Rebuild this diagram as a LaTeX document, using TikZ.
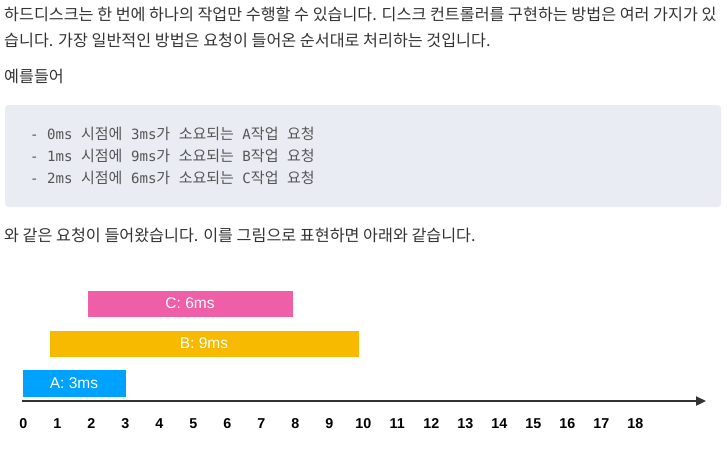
\documentclass[tikz,border=0pt]{standalone}
\usepackage{fontspec}
\setmainfont{Liberation Sans}
\newfontfamily\kr{Noto Sans CJK KR}
\newfontfamily\cmono{DejaVu Sans Mono}
\usetikzlibrary{arrows.meta}
\definecolor{bodytxt}{HTML}{333333}
\definecolor{codetxt}{HTML}{555555}
\definecolor{codebg}{HTML}{E9ECF3}
\definecolor{barA}{HTML}{00A2FF}
\definecolor{barB}{HTML}{F8BA00}
\definecolor{barC}{HTML}{EF5FA7}
\definecolor{axis}{HTML}{333333}
\newcommand\mc[1]{{\cmono\fontsize{14.1}{16}\selectfont #1}}
\newcommand\kc[1]{{\kr\fontsize{15}{16}\selectfont #1}}
\begin{document}
\begin{tikzpicture}[x=1pt,y=-1pt,
  bodyline/.style={anchor=west,inner sep=0pt,text=bodytxt,font=\kr\fontsize{16.2}{18}\selectfont},
  codeline/.style={anchor=west,inner sep=0pt,text=codetxt},
  bar/.style={draw=white,line width=0.6pt,text=white,font=\fontsize{15.5}{17}\selectfont,inner sep=0pt},
  tick/.style={font=\bfseries\fontsize{14.3}{16}\selectfont,inner sep=0pt,text=black,anchor=base}]
\useasboundingbox (0,0) rectangle (727,464);
\node[bodyline] (l1) at (4,14) {하드디스크는 한 번에 하나의 작업만 수행할 수 있습니다. 디스크 컨트롤러를 구현하는 방법은 여러 가지가 있};
\node[bodyline] (l2) at (4,40) {습니다. 가장 일반적인 방법은 요청이 들어온 순서대로 처리하는 것입니다.};
\node[bodyline] (l3) at (4,76) {예를들어};
\fill[codebg,rounded corners=3pt] (5,105) rectangle (721,207);
\node[codeline] (c1) at (30,134) {\mc{- 0ms }\kc{시점에}\mc{ 3ms}\kc{가}\mc{ }\kc{소요되는}\mc{ A}\kc{작업}\mc{ }\kc{요청}};
\node[codeline] (c2) at (30,156) {\mc{- 1ms }\kc{시점에}\mc{ 9ms}\kc{가}\mc{ }\kc{소요되는}\mc{ B}\kc{작업}\mc{ }\kc{요청}};
\node[codeline] (c3) at (30,178) {\mc{- 2ms }\kc{시점에}\mc{ 6ms}\kc{가}\mc{ }\kc{소요되는}\mc{ C}\kc{작업}\mc{ }\kc{요청}};
\node[bodyline] (l4) at (4,235) {와 같은 요청이 들어왔습니다. 이를 그림으로 표현하면 아래와 같습니다.};
% bars
\draw[bar,fill=barC] (87,290) rectangle node (cl) {C: 6ms} (293,317);
\draw[bar,fill=barB] (49,330) rectangle node (bl) {B: 9ms} (359,357);
\draw[bar,fill=barA] (22,369) rectangle node (al) {A: 3ms} (126,397);
% axis
\coordinate (ax0) at (22,401);
\coordinate (ax1) at (706,401);
\draw[axis,line width=2.2pt,-{Triangle[length=10pt,width=9pt]}] (ax0) -- (ax1);
\foreach \i in {0,...,18}{
  \node[tick] (t\i) at ({23.3+34*\i},428) {\i};
}
\end{tikzpicture}
\end{document}
